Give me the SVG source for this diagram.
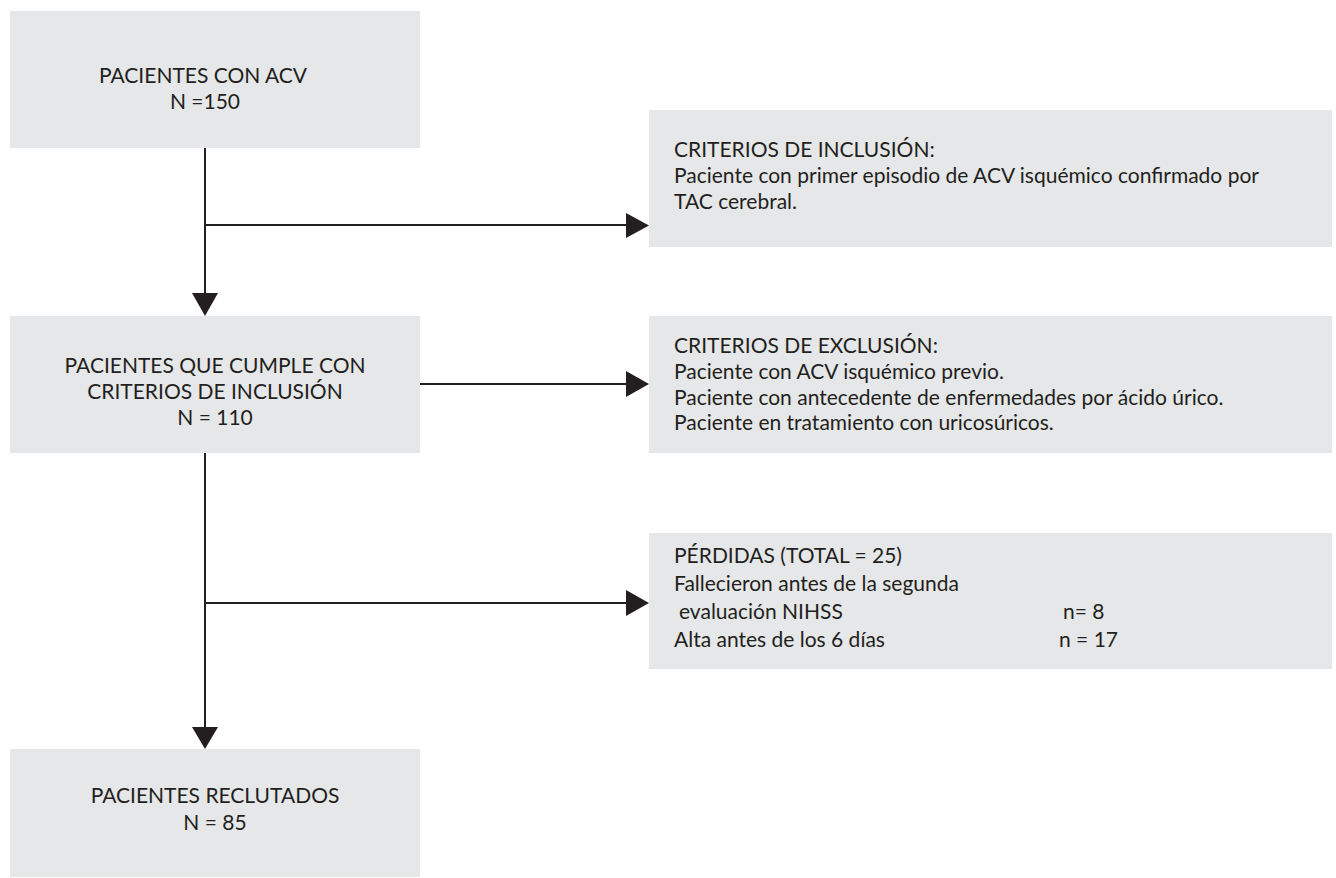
<svg xmlns="http://www.w3.org/2000/svg" width="1336" height="878" viewBox="0 0 1336 878">
<style>
.box{fill:#e6e7e8;}
.t{font-family:Lato,"Liberation Sans",sans-serif;fill:#231f20;}
.c{font-size:21px;text-anchor:middle;}
.l{font-size:21px;}
.ln{stroke:#231f20;stroke-width:2;fill:none;}
.ah{fill:#231f20;}
</style>
<rect width="1336" height="878" fill="#ffffff"/>
<g id="connectors">
<path class="ln" d="M205 148 V294 M205 225 H628"/>
<polygon class="ah" points="192,293 218,293 205,316"/>
<polygon class="ah" points="626,213 626,238 649,225.5"/>
<path class="ln" d="M420 384 H628"/>
<polygon class="ah" points="626,371 626,397 649,384"/>
<path class="ln" d="M205 453 V728 M205 603 H628"/>
<polygon class="ah" points="192,727 218,727 205,749"/>
<polygon class="ah" points="626,590 626,616 649,603"/>
</g>
<g id="n1">
<rect class="box" x="10" y="11" width="410" height="137"/>
<text class="t c" x="203" y="83">PACIENTES CON ACV</text>
<text class="t c" x="205" y="109">N =150</text>
</g>
<g id="n2">
<rect class="box" x="649" y="110" width="683" height="137"/>
<text class="t l" x="674" y="157">CRITERIOS DE INCLUSIÓN:</text>
<text class="t l" x="674" y="183">Paciente con primer episodio de ACV isquémico confirmado por</text>
<text class="t l" x="674" y="209">TAC cerebral.</text>
</g>
<g id="n3">
<rect class="box" x="10" y="316" width="410" height="137"/>
<text class="t c" x="215" y="373">PACIENTES QUE CUMPLE CON</text>
<text class="t c" x="215" y="399">CRITERIOS DE INCLUSIÓN</text>
<text class="t c" x="215" y="425">N = 110</text>
</g>
<g id="n4">
<rect class="box" x="649" y="316" width="683" height="137"/>
<text class="t l" x="674" y="353">CRITERIOS DE EXCLUSIÓN:</text>
<text class="t l" x="674" y="379">Paciente con ACV isquémico previo.</text>
<text class="t l" x="674" y="405">Paciente con antecedente de enfermedades por ácido úrico.</text>
<text class="t l" x="674" y="430">Paciente en tratamiento con uricosúricos.</text>
</g>
<g id="n5">
<rect class="box" x="649" y="533" width="683" height="136"/>
<text class="t l" x="674" y="563">PÉRDIDAS (TOTAL = 25)</text>
<text class="t l" x="674" y="591">Fallecieron antes de la segunda</text>
<text class="t l" x="679" y="619">evaluación NIHSS</text>
<text class="t l" x="1063" y="619">n= 8</text>
<text class="t l" x="674" y="647">Alta antes de los 6 días</text>
<text class="t l" x="1059" y="647">n = 17</text>
</g>
<g id="n6">
<rect class="box" x="10" y="749" width="410" height="128"/>
<text class="t c" x="215" y="803">PACIENTES RECLUTADOS</text>
<text class="t c" x="215" y="830">N = 85</text>
</g>
</svg>
